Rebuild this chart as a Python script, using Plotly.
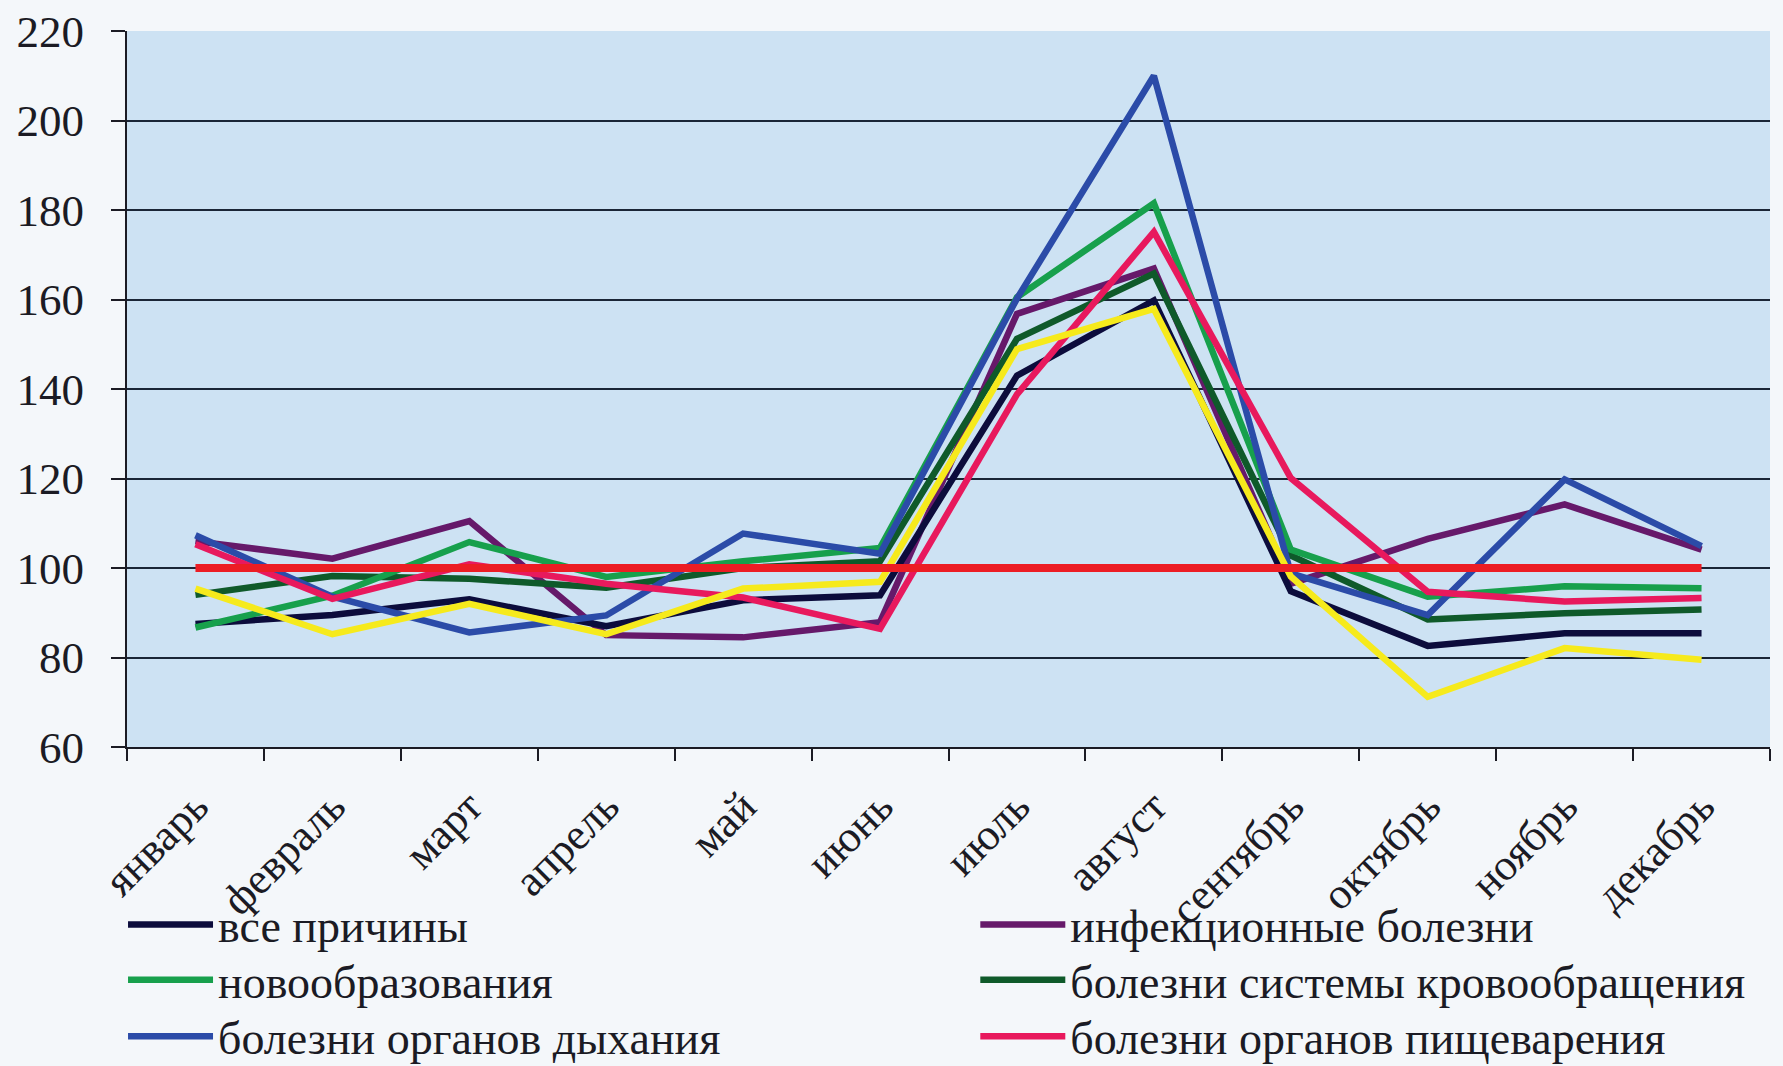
import plotly.graph_objects as go

months = ["январь", "февраль", "март", "апрель", "май", "июнь",
          "июль", "август", "сентябрь", "октябрь", "ноябрь", "декабрь"]

all_causes = [87.5, 89.5, 93, 87, 92.8, 93.9, 143, 159.8, 94.8, 82.6, 85.4, 85.4]
infectious = [106, 102.1, 110.5, 85, 84.5, 87.9, 156.8, 166.9, 96.5, 106.5, 114.2, 104.1]
neoplasms = [86.7, 93.8, 105.8, 98, 101.5, 104.5, 160.5, 181.5, 104.1, 93.6, 95.9, 95.5]
circulatory = [94, 98.2, 97.6, 95.6, 100, 101.5, 151.2, 165.8, 102.8, 88.5, 89.9, 90.7]
respiratory = [107.3, 93.6, 85.6, 89.4, 107.7, 103.2, 160.2, 210, 98.8, 89.5, 119.8, 104.9]
digestive = [105.3, 93.1, 100.8, 96.5, 93.4, 86.4, 138.8, 175.1, 120.1, 94.7, 92.5, 93.3]
other_causes = [95.4, 85.2, 92, 85.2, 95.4, 96.9, 148.9, 157.9, 98.1, 71.2, 82.1, 79.5]
base_level = [100] * 12

SERIF = "Liberation Serif"
INK = "#1b1b24"

# (name, values, colour, width, legend slot or None)
series = [
    ("инфекционные болезни", infectious, "#66196a", 6.5, "legend2"),
    ("все причины", all_causes, "#0c0c3c", 6.5, "legend"),
    ("болезни системы кровообращения", circulatory, "#0f5a2a", 6.5, "legend4"),
    ("новообразования", neoplasms, "#17a04c", 6.5, "legend3"),
    ("болезни органов дыхания", respiratory, "#2b4ba8", 6.5, "legend5"),
    ("болезни органов пищеварения", digestive, "#e8195d", 6.5, "legend6"),
    ("прочие причины", other_causes, "#f6ea1c", 6.5, None),
    ("уровень 100", base_level, "#ec1d24", 8, None),
]

fig = go.Figure()
for name, vals, color, width, slot in series:
    fig.add_trace(go.Scatter(
        x=months, y=vals, name=name, mode="lines",
        line=dict(color=color, width=width),
        legend=slot or "legend", showlegend=slot is not None,
    ))

# two legend columns, three rows: one single-entry legend per cell
col_x = {"left": 0.069, "right": 0.547}
row_y = [0.167, 0.115, 0.062]
cells = {
    "legend": ("left", 0), "legend2": ("right", 0),
    "legend3": ("left", 1), "legend4": ("right", 1),
    "legend5": ("left", 2), "legend6": ("right", 2),
}
legend_layout = {}
for key, (col, row) in cells.items():
    legend_layout[key] = dict(
        orientation="v",
        xref="container", x=col_x[col], xanchor="left",
        yref="container", y=row_y[row], yanchor="top",
        bgcolor="rgba(0,0,0,0)", itemwidth=85,
        font=dict(family=SERIF, size=46, color=INK),
    )

fig.update_layout(
    width=1783, height=1066,
    margin=dict(l=127, r=13, t=31, b=319, autoexpand=False),
    paper_bgcolor="#f4f7fa",
    plot_bgcolor="#cde2f3",
    font=dict(family=SERIF, size=44, color=INK),
    **legend_layout,
)

fig.update_xaxes(
    type="category", range=[-0.5, 11.5], tickangle=-45, tickson="boundaries",
    automargin=False,
    ticks="outside", ticklen=12, tickwidth=2, tickcolor=INK,
    showline=True, linecolor=INK, linewidth=2,
    showgrid=False, ticklabelstandoff=14,
    tickfont=dict(family=SERIF, size=44, color=INK),
)
fig.update_yaxes(
    range=[60, 220], dtick=20, tick0=60, automargin=False,
    ticks="outside", ticklen=14, tickwidth=2, tickcolor=INK,
    showline=True, linecolor=INK, linewidth=2,
    showgrid=True, gridcolor="#1a2536", gridwidth=2,
    zeroline=False, ticklabelstandoff=18,
    tickfont=dict(family=SERIF, size=45, color=INK),
)

fig.write_html("out.html")
